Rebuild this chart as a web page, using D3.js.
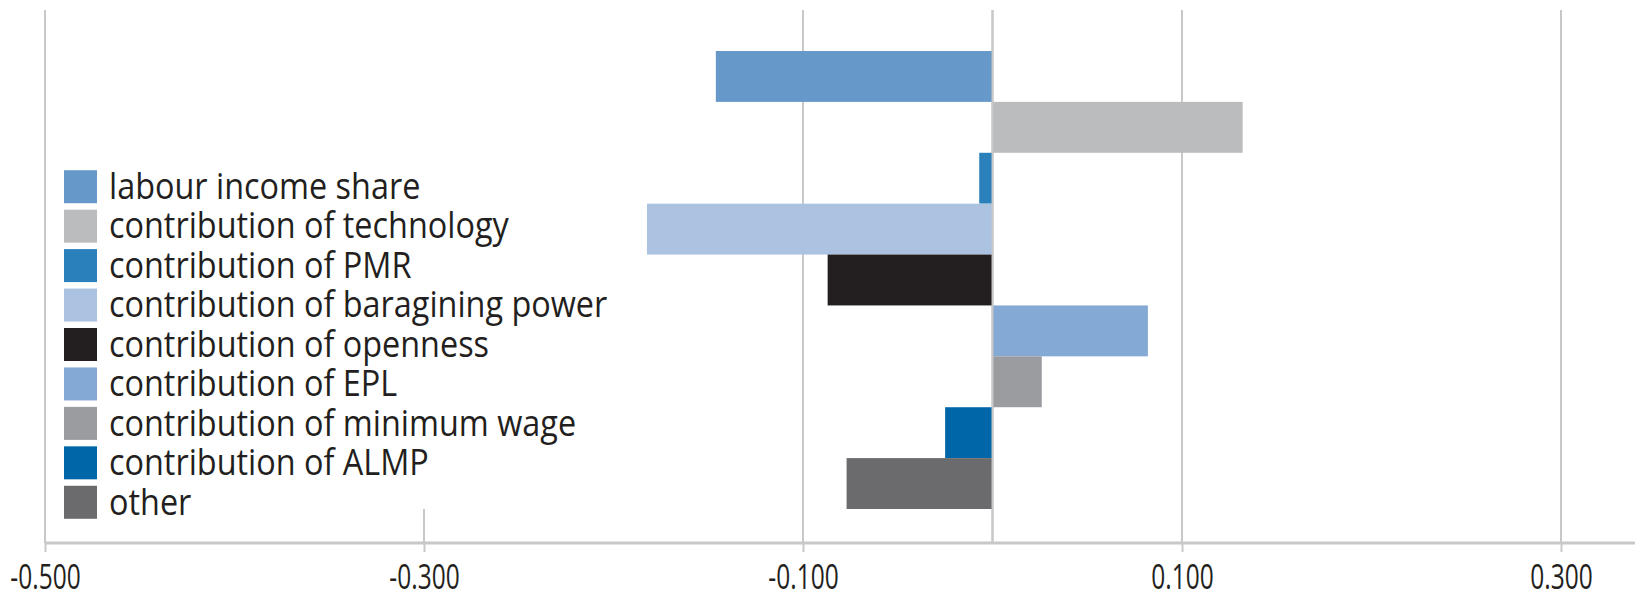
<!DOCTYPE html>
<html>
<head>
<meta charset="utf-8">
<script src="https://cdn.jsdelivr.net/npm/d3@7"></script>
<style>
  html, body { margin: 0; padding: 0; background: #fff; }
  svg { display: block; }
  text { font-family: "Open Sans", "Noto Sans", sans-serif; fill: #231f20; }
</style>
</head>
<body>
<svg id="chart" width="1635" height="594"></svg>
<script>
// Contributions to the change in the labour income share
const series = [
  "labour income share",
  "contribution of technology",
  "contribution of PMR",
  "contribution of baragining power",
  "contribution of openness",
  "contribution of EPL",
  "contribution of minimum wage",
  "contribution of ALMP",
  "other"
];
const values = [-0.146, 0.132, -0.007, -0.184, -0.087, 0.082, 0.026, -0.025, -0.077];
const colors = ["#6699c9", "#bbbcbe", "#2a80bb", "#abc3e1", "#231f20", "#84a9d4", "#9b9ca0", "#0066a8", "#6b6b6e"];
const tickValues = [-0.5, -0.3, -0.1, 0.1, 0.3];
const gridValues = [-0.5, -0.3, -0.1, 0, 0.1, 0.3];

const svg = d3.select("#chart");
const W = 1635;
const plotTop = 10, axisY = 543;

const x = d3.scaleLinear().domain([-0.5, 0.3]).range([45, 1561]);
const y = d3.scaleBand().domain(series).range([51, 509]).padding(0);

// vertical gridlines
svg.append("g")
  .selectAll("line")
  .data(gridValues)
  .join("line")
  .attr("x1", d => x(d)).attr("x2", d => x(d))
  .attr("y1", plotTop).attr("y2", axisY)
  .attr("stroke", "#c8c8c8")
  .attr("stroke-width", 2);

// bars
svg.append("g")
  .selectAll("rect")
  .data(series)
  .join("rect")
  .attr("x", (d, i) => Math.min(x(0), x(values[i])))
  .attr("width", (d, i) => Math.abs(x(values[i]) - x(0)))
  .attr("y", d => y(d))
  .attr("height", y.bandwidth())
  .attr("fill", (d, i) => colors[i]);

// zero line drawn over the bars
svg.append("line")
  .attr("x1", x(0)).attr("x2", x(0))
  .attr("y1", plotTop).attr("y2", axisY)
  .attr("stroke", "#c8c8c8")
  .attr("stroke-width", 2);

// legend with its own white background
const legend = svg.append("g");
legend.append("rect")
  .attr("x", 47).attr("y", 0)
  .attr("width", 600).attr("height", 509)
  .attr("fill", "#fff");

const rowY = d3.scaleBand().domain(series).range([167, 522]).padding(0);
const item = legend.selectAll("g.item")
  .data(series)
  .join("g")
  .attr("class", "item")
  .attr("transform", d => `translate(0,${rowY(d) + rowY.bandwidth() / 2})`);
item.append("rect")
  .attr("x", 64).attr("y", -16.5)
  .attr("width", 33).attr("height", 33)
  .attr("fill", (d, i) => colors[i]);
item.append("text")
  .attr("transform", "translate(109,0) scale(0.9,1)")
  .attr("dy", "0.34em")
  .attr("font-size", 36)
  .text(d => d);

// x axis
svg.append("line")
  .attr("x1", x(-0.5)).attr("x2", W)
  .attr("y1", axisY).attr("y2", axisY)
  .attr("stroke", "#c8c8c8")
  .attr("stroke-width", 3);

const axis = d3.axisBottom(x)
  .tickValues(tickValues)
  .tickSize(9)
  .tickPadding(0)
  .tickFormat(d => d.toFixed(3));
const gx = svg.append("g")
  .attr("transform", `translate(0,${axisY})`)
  .call(axis);
gx.select(".domain").remove();
gx.selectAll(".tick line").attr("stroke", "#c8c8c8").attr("stroke-width", 2);
gx.selectAll(".tick text")
  .attr("y", 0)
  .attr("dy", 0)
  .attr("transform", "translate(0,46) scale(0.72,1)")
  .attr("font-size", 34)
  .attr("fill", "#231f20")
  .style("font-family", '"Open Sans", "Noto Sans", sans-serif');
</script>
</body>
</html>
